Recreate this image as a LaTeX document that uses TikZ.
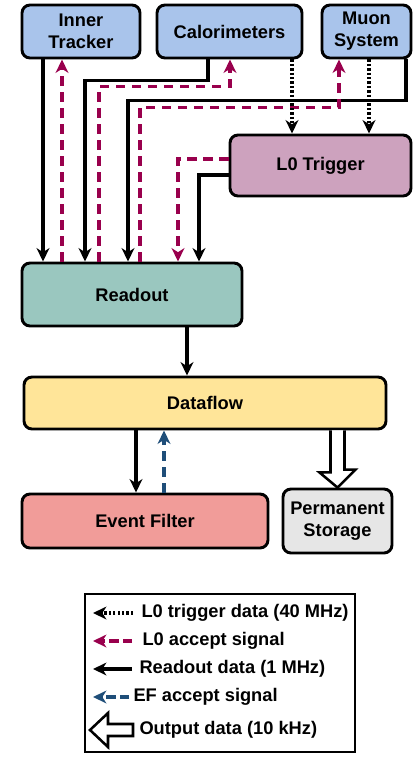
\documentclass[tikz,border=0pt]{standalone}
\usepackage{fontspec}
\setmainfont{Liberation Sans}
\usetikzlibrary{arrows.meta,calc}

\definecolor{detblue}{HTML}{A9C4EB}
\definecolor{trigpink}{HTML}{CDA2BE}
\definecolor{readgreen}{HTML}{9AC7BF}
\definecolor{flowyellow}{HTML}{FFE599}
\definecolor{filterred}{HTML}{F19C99}
\definecolor{storegrey}{HTML}{E6E6E6}
\definecolor{acceptred}{HTML}{99004D}
\definecolor{efblue}{HTML}{1F4E79}

\tikzset{every picture/.style={line width=0.75pt}}
\tikzset{
  block/.style={draw, line width=2.2pt, rounded corners=6pt, align=center, inner sep=0pt,
    font=\fontsize{13.7}{16.5}\selectfont\bfseries},
  keytext/.style={anchor=west, inner sep=0.75pt, font=\fontsize{13.7}{16.5}\selectfont\bfseries},
  arrowtip/.style={-{Stealth[length=10pt,width=9.5pt,inset=3pt]}},
  dataline/.style={line width=2.3pt, arrowtip},
  acceptline/.style={line width=2.3pt, arrowtip, color=acceptred, dash pattern=on 7pt off 5pt},
  trigline/.style={line width=2.3pt, arrowtip, dash pattern=on 1.7pt off 1.6pt},
  efline/.style={line width=2.3pt, arrowtip, color=efblue, dash pattern=on 7pt off 5pt},
  hollow/.style={draw, line width=1.9pt, fill=white, line join=miter}
}

\begin{document}
\begin{tikzpicture}[x=0.75pt,y=0.75pt,yscale=-1,xscale=1]
		\useasboundingbox (0,0) rectangle (413,757);
		
		%Detectors
		\node[block, fill=detblue, minimum width=88.5pt, minimum height=39.75pt] (tracker) at (81,31.5) {Inner\\Tracker};
		\node[block, fill=detblue, minimum width=108.75pt, minimum height=39.75pt] (calo) at (229.5,31.5) {Calorimeters};
		\node[block, fill=detblue, minimum width=66.75pt, minimum height=39.75pt] (muon) at (366.5,31.5) {Muon\\System};
		%Trigger and readout chain
		\node[block, fill=trigpink, minimum width=135.75pt, minimum height=45.75pt] (trigger) at (320.5,165.5) {L0 Trigger};
		\node[block, fill=readgreen, minimum width=165pt, minimum height=47.25pt] (readout) at (132,294.5) {Readout};
		\node[block, fill=flowyellow, minimum width=271.5pt, minimum height=39pt] (dataflow) at (205,403) {Dataflow};
		\node[block, fill=filterred, minimum width=184.5pt, minimum height=40.5pt] (filter) at (145,521) {Event Filter};
		\node[block, fill=storegrey, minimum width=81.75pt, minimum height=48pt] (storage) at (337.5,521) {Permanent\\Storage};
		
		%Readout data
		\draw[dataline] (tracker.south -| 43,0) -- (readout.north -| 43,0);
		\draw[dataline] (calo.south -| 208,0) -- ++(0,21) -| (readout.north -| 85,0);
		\draw[dataline] (muon.south -| 406,0) -- ++(0,41) -| (readout.north -| 128,0);
		\draw[dataline] (trigger.west |- 0,175) -| (readout.north -| 199,0);
		%L0 accept
		\draw[acceptline] (readout.north -| 62,0) -- (tracker.south -| 62,0);
		\draw[acceptline] (readout.north -| 99,0) -- ++(0,-175) -| (calo.south -| 230,0);
		\draw[acceptline] (readout.north -| 140,0) -- ++(0,-154) -| (muon.south -| 339,0);
		\draw[acceptline] (trigger.west |- 0,159) -| (readout.north -| 178,0);
		%L0 trigger data
		\draw[trigline] (calo.south -| 292,0) -- (trigger.north -| 292,0);
		\draw[trigline] (muon.south -| 369,0) -- (trigger.north -| 369,0);
		%Dataflow
		\draw[dataline] (readout.south -| 187,0) -- (dataflow.north -| 187,0);
		\draw[dataline] (dataflow.south -| 136,0) -- (filter.north -| 136,0);
		\draw[efline] (filter.north -| 164,0) -- (dataflow.south -| 164,0);
		\draw[hollow] ($(dataflow.south -| storage.north)+(-7,0)$) -- ++(0,42) -- ++(-11,0) -- (storage.north)
		  -- ++(18,-18) -- ++(-11,0) -- ($(dataflow.south -| storage.north)+(7,0)$);
		
		%Legend
		\node[draw, line width=1pt, minimum width=202.5pt, minimum height=118.5pt, inner sep=0pt] (legend) at (220,673) {};
		\coordinate (k1a) at (133,613); \coordinate (k1b) at (93,613);
		\coordinate (k2a) at (132,641); \coordinate (k2b) at (93,641);
		\coordinate (k3a) at (132,669); \coordinate (k3b) at (93,669);
		\coordinate (k4a) at (129,697); \coordinate (k4b) at (93,697);
		\coordinate (k5) at (90,730);
		\draw[trigline] (k1a) -- (k1b);
		\draw[acceptline, dash pattern=on 7pt off 3pt] (k2a) -- (k2b);
		\draw[dataline] (k3a) -- (k3b);
		\draw[efline, dash pattern=on 7pt off 3pt] (k4a) -- (k4b);
		\draw[hollow] (k5) -- ++(18,-17) -- ++(0,11) -- ++(25,0) -- ++(0,12) -- ++(-25,0) -- ++(0,11) -- cycle;
		
		\node[keytext] (key1) at (140,613) {L0 trigger data (40 MHz)};
		\node[keytext] (key2) at (141,641) {L0 accept signal};
		\node[keytext] (key3) at (138,669) {Readout data (1 MHz)};
		\node[keytext] (key4) at (132,697) {EF accept signal};
		\node[keytext] (key5) at (138,730) {Output data (10 kHz)};
		
	\end{tikzpicture}
\end{document}
